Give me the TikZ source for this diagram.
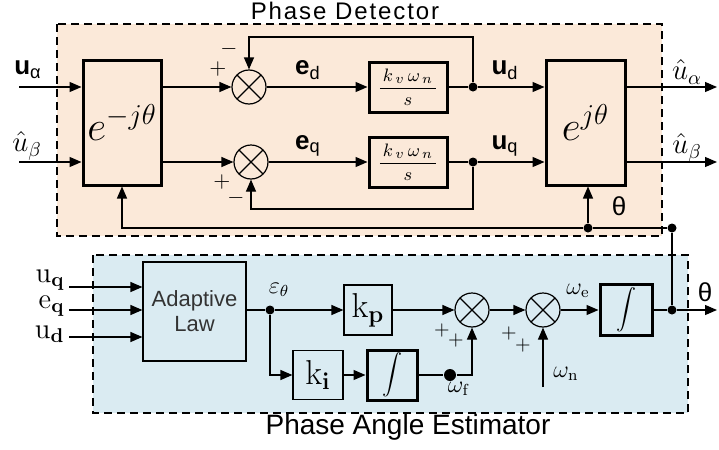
\documentclass[tikz,border=0pt]{standalone}
\usepackage[no-math]{fontspec}
\setmainfont{Liberation Sans}
\usetikzlibrary{shapes, arrows.meta, positioning, calc}
\definecolor{pdfill}{RGB}{251,233,217}
\definecolor{pefill}{RGB}{218,235,242}

\begin{document}
\begin{tikzpicture}[
  x=0.5pt, y=-0.5pt, line width=0.6pt, >={Triangle[length=6pt,width=5pt]},
  blk/.style={draw, line width=1.5pt, inner sep=0pt},
  tblk/.style={draw, line width=0.6pt, inner sep=0pt},
  sumj/.style={draw, circle, minimum size=17pt, inner sep=0pt,
    path picture={\draw ([shift={(45:8.5pt)}]path picture bounding box.center) -- ([shift={(-135:8.5pt)}]path picture bounding box.center)
      ([shift={(135:8.5pt)}]path picture bounding box.center) -- ([shift={(-45:8.5pt)}]path picture bounding box.center);}},
  dotn/.style={circle, fill, inner sep=0pt, minimum size=4.5pt},
  lbl/.style={font=\fontsize{13}{13}\selectfont, inner sep=0pt},
  mlbl/.style={font=\fontsize{14}{14}\selectfont, inner sep=0pt, anchor=east},
  sgn/.style={font=\fontsize{11}{11}\selectfont, inner sep=0pt},
  frame/.style={draw, line width=1pt, dash pattern=on 4pt off 2.5pt}
]
  \useasboundingbox (0,0) rectangle (719,450);

  % System boundaries
  \draw[frame, fill=pdfill] (57,24) rectangle (662,236);
  \draw[frame, fill=pefill] (93,255) rectangle (688,413);
  \node[font=\fontsize{12}{12}\selectfont\addfontfeature{LetterSpace=8}, inner sep=0pt, anchor=base] (pdt) at (345,19) {Phase Detector};
  \node[font=\fontsize{14}{14}\selectfont, inner sep=0pt] (pet) at (408,427) {Phase Angle Estimator};

  % Phase detector blocks
  \node[blk, minimum width=39pt, minimum height=62.5pt, font=\fontsize{22}{22}\selectfont] (rotn) at (122,122.5) {$e^{-j\theta}$};
  \node[blk, minimum width=39.5pt, minimum height=62.5pt, font=\fontsize{22}{22}\selectfont] (rotp) at (585.5,122.5) {$e^{j\theta}$};
  \node[sumj] (sd) at (249,87) {};
  \node[sumj] (sq) at (251,162) {};
  \node[blk, minimum width=39pt, minimum height=25pt, font=\fontsize{9.5}{9.5}\selectfont] (igd) at (408,87) {$\displaystyle\frac{\,k_{\,v}\,\omega_{\,n}\,}{s}$};
  \node[blk, minimum width=39pt, minimum height=25pt, font=\fontsize{9.5}{9.5}\selectfont] (igq) at (408,162) {$\displaystyle\frac{\,k_{\,v}\,\omega_{\,n}\,}{s}$};
  \node[dotn] (dd) at (473,87) {};
  \node[dotn] (dq) at (473,162) {};
  \node[dotn] (tha) at (588,228) {};
  \node[dotn] (thb) at (672,228) {};

  \coordinate (ina) at (19,87);
  \coordinate (inb) at (19,162);
  \coordinate (oua) at (717,87);
  \coordinate (oub) at (717,162);
  \coordinate (fbd) at (249,37);
  \coordinate (fbq) at (251,209);

  % Phase detector arrows
  \draw[->] (ina) -- (ina -| rotn.west);
  \draw[->] (inb) -- (inb -| rotn.west);
  \draw[->] (rotn.east |- sd) -- (sd);
  \draw[->] (rotn.east |- sq) -- (sq);
  \draw[->] (sd) -- (igd);
  \draw[->] (sq) -- (igq);
  \draw (igd) -- (dd);
  \draw (igq) -- (dq);
  \draw[->] (dd) -- (dd -| rotp.west);
  \draw[->] (dq) -- (dq -| rotp.west);
  \draw[->] (dd) |- (fbd) -- (sd);
  \draw[->] (dq) |- (fbq) -- (sq);
  \draw[->] (rotp.east |- oua) -- (oua);
  \draw[->] (rotp.east |- oub) -- (oub);
  \draw[->] (thb) -- (tha) -- (rotn.south |- tha) -- (rotn.south);
  \draw[->] (tha) -- (tha |- rotp.south);

  % Phase detector labels
  \node[lbl] (lua) at (28,70) {\textbf{u}\textsubscript{α}};
  \node[font=\fontsize{14}{14}\selectfont] (lub) at (27,146) {$\hat{u}_{\beta}$};
  \node[lbl] (led) at (308,70) {\textbf{e}\textsubscript{d}};
  \node[lbl] (leq) at (308,146) {\textbf{e}\textsubscript{q}};
  \node[lbl] (lud) at (505,70) {\textbf{u}\textsubscript{d}};
  \node[lbl] (luq) at (505,146) {\textbf{u}\textsubscript{q}};
  \node[font=\fontsize{14}{14}\selectfont] (loa) at (687,72) {$\hat{u}_{\alpha}$};
  \node[font=\fontsize{14}{14}\selectfont] (lob) at (687,148) {$\hat{u}_{\beta}$};
  \node[lbl] (lth) at (619,206) {θ};
  \node[sgn] at (218,69) {$+$};
  \node[sgn] at (229,49) {$-$};
  \node[sgn] at (222,182) {$+$};
  \node[sgn] at (236,198) {$-$};

  % Phase angle estimator blocks
  \node[tblk, minimum width=51.5pt, minimum height=49.5pt, align=center, text=black!80, font=\fontsize{11}{12.5}\selectfont] (adl) at (194.5,311.5) {Adaptive\\Law};
  \node[dotn] (ea) at (270,310) {};
  \node[tblk, minimum width=24pt, minimum height=25pt, font=\fontsize{18}{18}\selectfont] (kp) at (368,310) {$\mathrm{k}_{\mathbf{p}}$};
  \node[tblk, minimum width=25pt, minimum height=24.5pt, font=\fontsize{18}{18}\selectfont] (ki) at (318,375) {$\mathrm{k}_{\mathbf{i}}$};
  \node[blk, minimum width=25pt, minimum height=25pt, font=\fontsize{11}{11}\selectfont] (ig1) at (392,375) {$\displaystyle\int$};
  \node[dotn, minimum size=6pt] (wf) at (450,375) {};
  \node[sumj] (s1) at (472,310) {};
  \node[sumj] (s2) at (543,310) {};
  \node[blk, minimum width=26pt, minimum height=25.5pt, font=\fontsize{11}{11}\selectfont] (ig2) at (626,310) {$\displaystyle\int$};
  \node[dotn] (thc) at (672,310) {};

  \coordinate (iuq) at (69,287);
  \coordinate (ieq) at (69,310);
  \coordinate (iud) at (69,337);
  \coordinate (tho) at (717,310);
  \coordinate (wn) at (543,387);

  % Phase angle estimator arrows
  \draw[->] (iuq) -- (iuq -| adl.west);
  \draw[->] (ieq) -- (ieq -| adl.west);
  \draw[->] (iud) -- (iud -| adl.west);
  \draw (adl.east |- ea) -- (ea);
  \draw[->] (ea) -- (kp);
  \draw[->] (ea) |- (ki);
  \draw[->] (ki) -- (ig1);
  \draw (ig1) -- (wf);
  \draw[->] (wf) -| (s1);
  \draw[->] (kp) -- (s1);
  \draw[->] (s1) -- (s2);
  \draw[->] (wn) -- (s2);
  \draw[->] (s2) -- (ig2);
  \draw (ig2) -- (thc);
  \draw[->] (thc) -- (tho);
  \draw (thb) -- (thc);

  % Phase angle estimator labels
  \node[mlbl] (luq2) at (65,280) {$\mathrm{u}_{\mathbf{q}}$};
  \node[mlbl] (leq2) at (65,306) {$\mathrm{e}_{\mathbf{q}}$};
  \node[mlbl] (lud2) at (65,334) {$\mathrm{u}_{\mathbf{d}}$};
  \node[font=\fontsize{12}{12}\selectfont, inner sep=0pt] (lea) at (279,290) {$\varepsilon_{\theta}$};
  \node[font=\fontsize{12}{12}\selectfont, inner sep=0pt] (lwf) at (459,389) {$\omega_{\mathrm{f}}$};
  \node[font=\fontsize{12}{12}\selectfont, inner sep=0pt] (lwn) at (566,374) {$\omega_{\mathrm{n}}$};
  \node[font=\fontsize{12}{12}\selectfont, inner sep=0pt] (lwe) at (578,291) {$\omega_{\mathrm{e}}$};
  \node[lbl] (lto) at (705,292) {θ};
  \node[sgn, font=\fontsize{10}{10}\selectfont] at (442,330) {$+$};
  \node[sgn, font=\fontsize{10}{10}\selectfont] at (456,340) {$+$};
  \node[sgn, font=\fontsize{10}{10}\selectfont] at (509,333) {$+$};
  \node[sgn, font=\fontsize{10}{10}\selectfont] at (523,345) {$+$};
\end{tikzpicture}
\end{document}
